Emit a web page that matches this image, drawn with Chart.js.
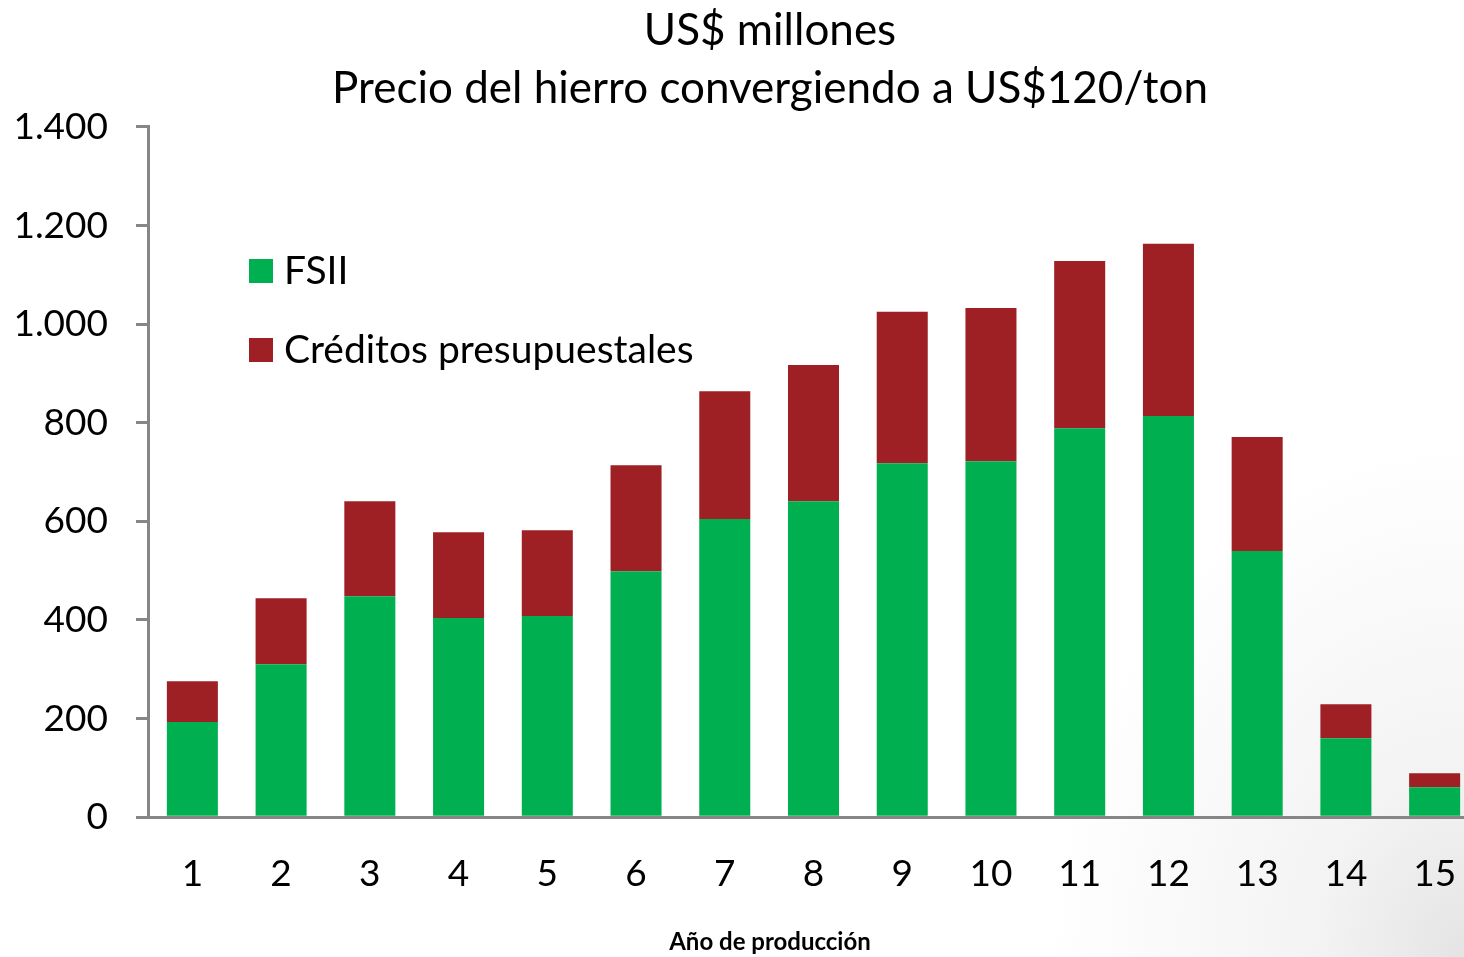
<!DOCTYPE html>
<html>
<head>
<meta charset="utf-8">
<script src="https://cdn.jsdelivr.net/npm/chart.js@4.4.1/dist/chart.umd.min.js"></script>
<style>
    html, body {
        margin: 0;
        padding: 0;
        width: 1464px;
        height: 957px;
        overflow: hidden;
        background: radial-gradient(ellipse 420px 520px at 100% 100%, #e4e4e4 0%, #f3f3f3 35%, #ffffff 100%);
    }
    #wrap {
        position: absolute;
        left: 0;
        top: 0;
        width: 1540px;
        height: 957px;
    }
</style>
</head>
<body>
<div id="wrap"><canvas id="chart"></canvas></div>
<script>
const years = ['1', '2', '3', '4', '5', '6', '7', '8', '9', '10', '11', '12', '13', '14', '15'];
const fsii = [193, 310, 448, 404, 408, 499, 605, 641, 718, 722, 789, 814, 540, 160, 61];
const creditos = [83, 134, 193, 174, 174, 215, 259, 276, 307, 311, 339, 349, 231, 69, 28];
const yTicks = [0, 200, 400, 600, 800, 1000, 1200, 1400];

const FONT = 'Lato, "Open Sans", sans-serif';
const AXIS_GREY = '#868686';

// legend drawn inside the plot, top-left
const insideLegend = {
    id: 'insideLegend',
    afterDraw(chart) {
        const { ctx, chartArea } = chart;
        const rows = [271, 350];
        ctx.save();
        ctx.font = '39px ' + FONT;
        ctx.textBaseline = 'middle';
        ctx.textAlign = 'left';
        chart.data.datasets.forEach((ds, i) => {
            const x = chartArea.left + 101;
            const y = rows[i];
            ctx.fillStyle = ds.backgroundColor;
            ctx.fillRect(x, y - 12, 24, 24);
            ctx.fillStyle = '#000';
            ctx.fillText(ds.label, x + 35, y);
        });
        ctx.restore();
    },
};

new Chart(document.getElementById('chart'), {
    type: 'bar',
    data: {
        labels: years,
        datasets: [
            {
                label: 'FSII',
                data: fsii,
                backgroundColor: '#00B050',
                barPercentage: 0.575,
                categoryPercentage: 1,
            },
            {
                label: 'Créditos presupuestales',
                data: creditos,
                backgroundColor: '#9E1F24',
                barPercentage: 0.575,
                categoryPercentage: 1,
            },
        ],
    },
    plugins: [insideLegend],
    options: {
        responsive: true,
        maintainAspectRatio: false,
        animation: false,
        layout: {
            padding: 0,
        },
        plugins: {
            legend: { display: false },
            tooltip: { enabled: false },
            title: {
                display: true,
                text: ['US$ millones', 'Precio del hierro convergiendo a US$120/ton'],
                color: '#000',
                font: { family: FONT, size: 44, weight: 'normal', lineHeight: 1.318 },
                padding: { top: 2, bottom: 9 },
            },
            subtitle: {
                display: true,
                position: 'bottom',
                text: 'Año de producción',
                color: '#000',
                font: { family: FONT, size: 24, weight: 'bold', lineHeight: 1.2 },
                padding: { top: 0, bottom: 0 },
            },
        },
        scales: {
            x: {
                stacked: true,
                grid: { display: false, drawTicks: false },
                border: { color: AXIS_GREY, width: 3 },
                ticks: {
                    color: '#000',
                    font: { family: FONT, size: 37 },
                    padding: 35,
                    maxRotation: 0,
                },
                afterFit(scale) {
                    scale.height = 111;
                },
            },
            y: {
                stacked: true,
                min: 0,
                max: 1400,
                afterBuildTicks(scale) {
                    scale.ticks = yTicks.map((v) => ({ value: v }));
                },
                grid: {
                    drawOnChartArea: false,
                    drawTicks: true,
                    tickLength: 12,
                    color: AXIS_GREY,
                    lineWidth: 3,
                },
                border: { color: AXIS_GREY, width: 3 },
                ticks: {
                    color: '#000',
                    font: { family: FONT, size: 37 },
                    padding: 28,
                    callback: (v) => v.toLocaleString('de-DE'),
                },
                afterFit(scale) {
                    scale.width = 148;
                },
            },
            // empty right-hand axis: keeps the plot running past the window edge
            // while the titles stay centred on the full canvas
            yRight: {
                type: 'linear',
                position: 'right',
                display: true,
                grid: { display: false, drawTicks: false },
                border: { display: false },
                ticks: { display: false },
                afterFit(scale) {
                    scale.width = 61;
                },
            },
        },
    },
});
</script>
</body>
</html>
